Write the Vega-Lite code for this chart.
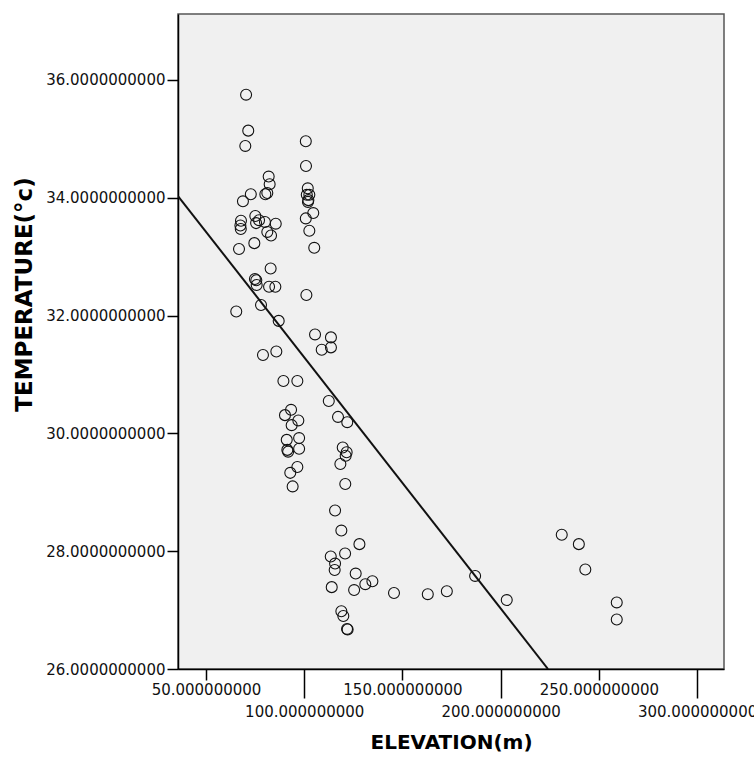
{
  "$schema": "https://vega.github.io/schema/vega-lite/v6.json",
  "autosize": "none",
  "width": 546,
  "height": 655,
  "padding": {"left": 178, "top": 14, "right": 30, "bottom": 94},
  "background": "white",
  "config": {
    "view": {"fill": "#f0f0f0", "stroke": "#555555", "strokeWidth": 1.5},
    "axis": {
      "labelFont": "DejaVu Sans",
      "labelFontSize": 15,
      "labelColor": "#111111",
      "titleFont": "DejaVu Sans",
      "titleFontSize": 20,
      "titleFontWeight": "bold",
      "titleColor": "#000000",
      "domainColor": "#000000",
      "domainWidth": 1.5,
      "tickColor": "#000000",
      "tickWidth": 1.5,
      "grid": false
    }
  },
  "datasets": {
    "points": [
      {"elev": 70.4, "temp": 35.75}, {"elev": 71.5, "temp": 35.14}, {"elev": 70.0, "temp": 34.88},
      {"elev": 100.8, "temp": 34.96}, {"elev": 100.9, "temp": 34.54}, {"elev": 81.9, "temp": 34.36},
      {"elev": 82.4, "temp": 34.23}, {"elev": 72.8, "temp": 34.06}, {"elev": 80.2, "temp": 34.06},
      {"elev": 81.2, "temp": 34.08}, {"elev": 68.8, "temp": 33.94}, {"elev": 101.8, "temp": 34.16},
      {"elev": 101.3, "temp": 34.05}, {"elev": 102.6, "temp": 34.05}, {"elev": 102.1, "temp": 33.96},
      {"elev": 101.9, "temp": 33.93}, {"elev": 104.6, "temp": 33.74}, {"elev": 100.8, "temp": 33.65},
      {"elev": 102.6, "temp": 33.44}, {"elev": 105.1, "temp": 33.15}, {"elev": 67.8, "temp": 33.61},
      {"elev": 67.5, "temp": 33.53}, {"elev": 67.7, "temp": 33.47}, {"elev": 75.1, "temp": 33.69},
      {"elev": 75.5, "temp": 33.57}, {"elev": 77.0, "temp": 33.62}, {"elev": 80.0, "temp": 33.59},
      {"elev": 85.5, "temp": 33.56}, {"elev": 81.2, "temp": 33.42}, {"elev": 83.1, "temp": 33.36},
      {"elev": 74.6, "temp": 33.23}, {"elev": 66.8, "temp": 33.13}, {"elev": 82.9, "temp": 32.80},
      {"elev": 74.9, "temp": 32.62}, {"elev": 75.6, "temp": 32.60}, {"elev": 75.8, "temp": 32.52},
      {"elev": 82.1, "temp": 32.49}, {"elev": 85.3, "temp": 32.49}, {"elev": 101.1, "temp": 32.35},
      {"elev": 65.4, "temp": 32.07}, {"elev": 78.0, "temp": 32.18}, {"elev": 87.0, "temp": 31.91},
      {"elev": 105.5, "temp": 31.68}, {"elev": 113.6, "temp": 31.63}, {"elev": 108.9, "temp": 31.42},
      {"elev": 113.6, "temp": 31.46}, {"elev": 79.0, "temp": 31.33}, {"elev": 85.8, "temp": 31.39},
      {"elev": 89.4, "temp": 30.89}, {"elev": 96.5, "temp": 30.89}, {"elev": 112.5, "temp": 30.55},
      {"elev": 93.3, "temp": 30.40}, {"elev": 90.2, "temp": 30.31}, {"elev": 93.6, "temp": 30.14},
      {"elev": 97.0, "temp": 30.22}, {"elev": 91.1, "temp": 29.89}, {"elev": 97.4, "temp": 29.92},
      {"elev": 91.4, "temp": 29.72}, {"elev": 91.8, "temp": 29.69}, {"elev": 97.4, "temp": 29.74},
      {"elev": 117.2, "temp": 30.28}, {"elev": 121.9, "temp": 30.19}, {"elev": 119.6, "temp": 29.76},
      {"elev": 121.6, "temp": 29.68}, {"elev": 121.1, "temp": 29.62}, {"elev": 118.4, "temp": 29.48},
      {"elev": 96.5, "temp": 29.43}, {"elev": 92.9, "temp": 29.33}, {"elev": 94.1, "temp": 29.10},
      {"elev": 120.9, "temp": 29.14}, {"elev": 115.7, "temp": 28.69}, {"elev": 118.9, "temp": 28.35},
      {"elev": 128.1, "temp": 28.12}, {"elev": 120.8, "temp": 27.96}, {"elev": 113.5, "temp": 27.91},
      {"elev": 115.7, "temp": 27.79}, {"elev": 115.5, "temp": 27.68}, {"elev": 126.2, "temp": 27.62},
      {"elev": 131.1, "temp": 27.44}, {"elev": 134.7, "temp": 27.49}, {"elev": 114.0, "temp": 27.39},
      {"elev": 125.4, "temp": 27.34}, {"elev": 145.7, "temp": 27.29}, {"elev": 162.9, "temp": 27.27},
      {"elev": 172.6, "temp": 27.32}, {"elev": 187.0, "temp": 27.58}, {"elev": 203.1, "temp": 27.17},
      {"elev": 118.9, "temp": 26.98}, {"elev": 119.9, "temp": 26.90}, {"elev": 121.8, "temp": 26.68},
      {"elev": 122.1, "temp": 26.67}, {"elev": 231.1, "temp": 28.28}, {"elev": 239.8, "temp": 28.12},
      {"elev": 243.1, "temp": 27.69}, {"elev": 259.1, "temp": 27.13}, {"elev": 259.1, "temp": 26.84}
    ],
    "fit": [
      {"elev": 35.74, "temp": 34.03},
      {"elev": 224.1, "temp": 26.0}
    ]
  },
  "layer": [
    {
      "data": {"name": "points"},
      "mark": {"type": "point", "shape": "circle", "filled": false, "stroke": "#111111", "strokeWidth": 1.1, "size": 120, "opacity": 1},
      "encoding": {
        "x": {
          "field": "elev", "type": "quantitative",
          "scale": {"domain": [35.74, 313.7], "nice": false, "zero": false},
          "axis": {
            "title": "ELEVATION(m)",
            "values": [50, 100, 150, 200, 250, 300],
            "format": ".9f",
            "tickSize": {"condition": {"test": "datum.value % 100 === 0", "value": 29}, "value": 11},
            "labelPadding": {"condition": {"test": "datum.value % 100 === 0", "value": 6}, "value": 2},
            "labelFlush": false,
            "labelOverlap": false,
            "titlePadding": 13
          }
        },
        "y": {
          "field": "temp", "type": "quantitative",
          "scale": {"domain": [26, 37.12], "nice": false, "zero": false},
          "axis": {
            "title": "TEMPERATURE(°c)",
            "titleFontSize": 23,
            "titleY": 280,
            "values": [26, 28, 30, 32, 34, 36],
            "format": ".10f",
            "tickSize": 11,
            "labelPadding": 2,
            "labelFlush": false,
            "labelOverlap": false,
            "titlePadding": 9
          }
        }
      }
    },
    {
      "data": {"name": "fit"},
      "mark": {"type": "line", "color": "#111111", "strokeWidth": 2, "clip": true},
      "encoding": {
        "x": {"field": "elev", "type": "quantitative"},
        "y": {"field": "temp", "type": "quantitative"}
      }
    }
  ]
}
